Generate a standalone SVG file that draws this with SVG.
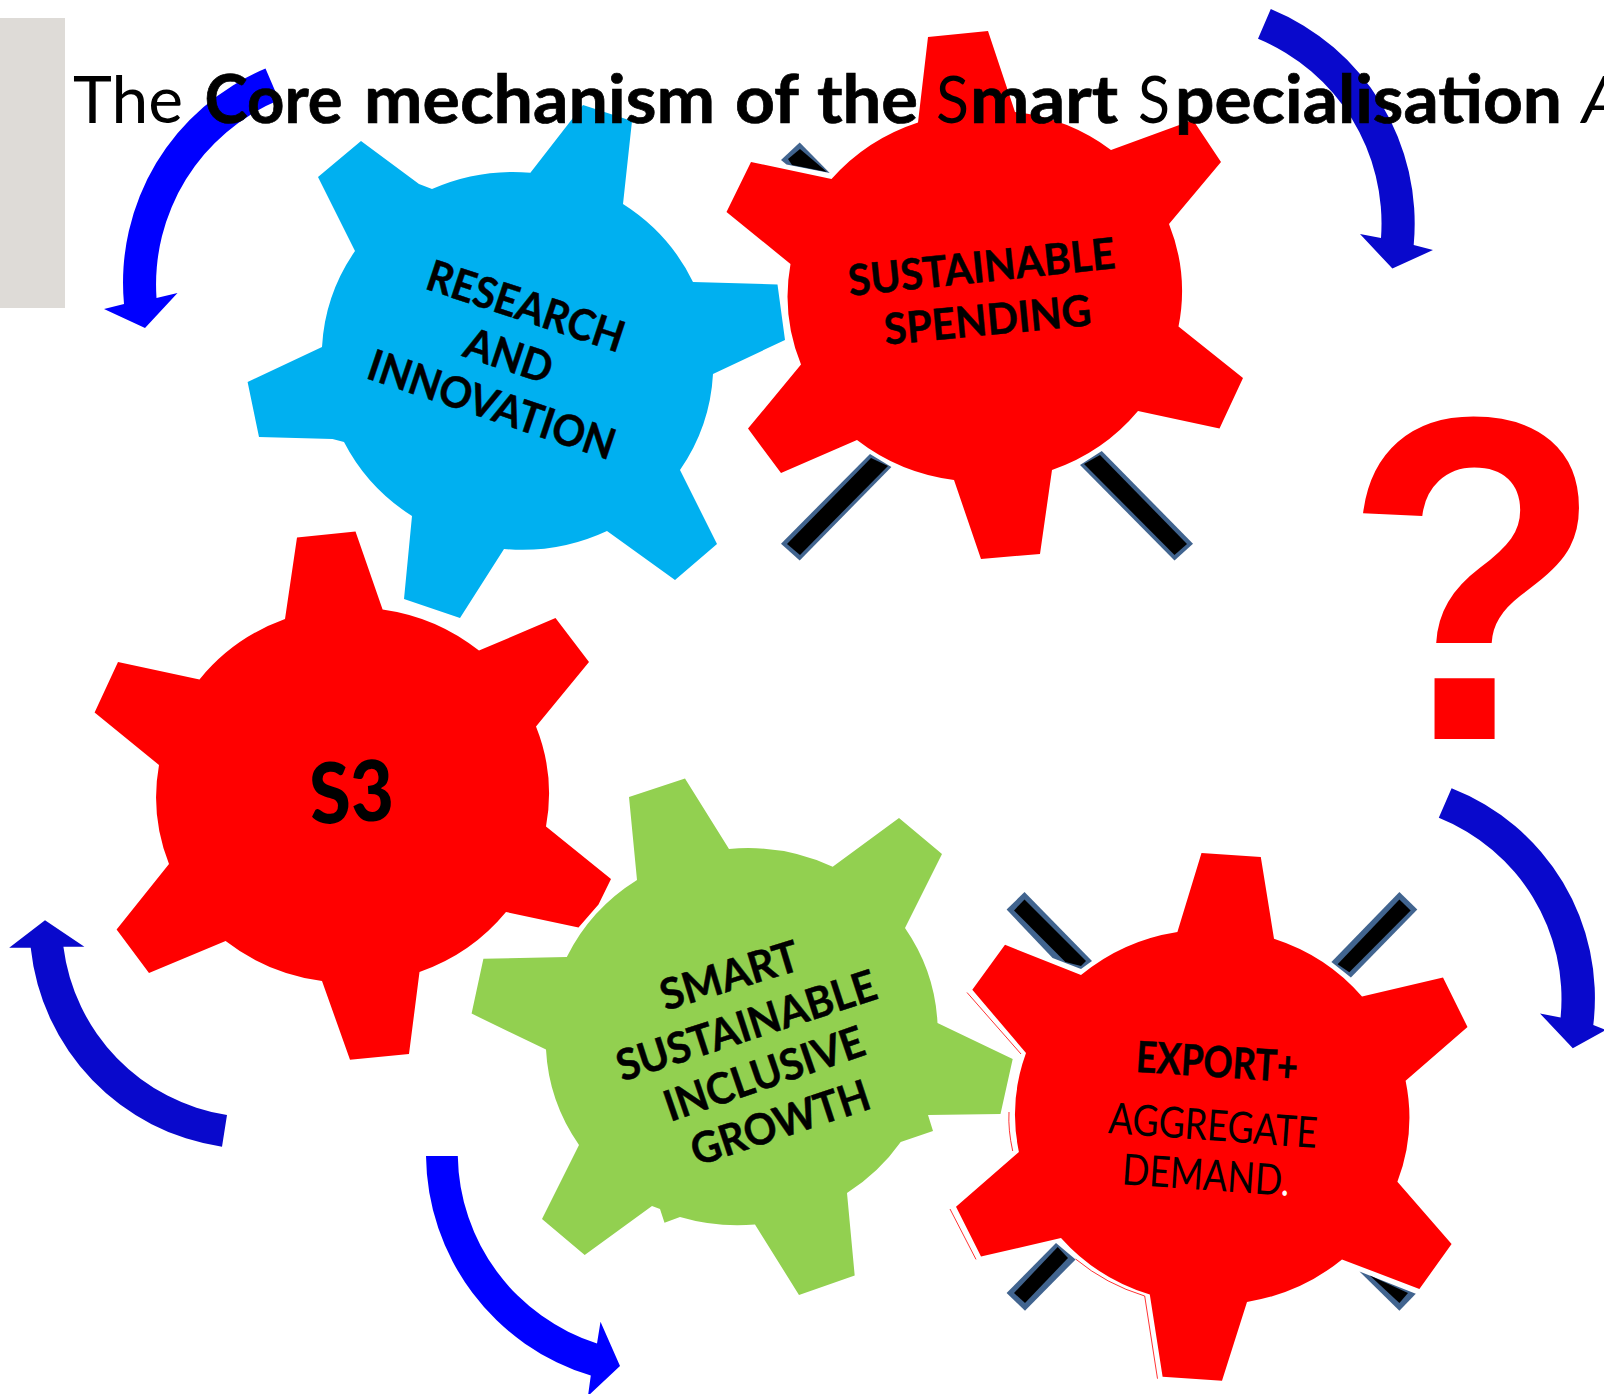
<svg xmlns="http://www.w3.org/2000/svg" width="1604" height="1394" viewBox="0 0 1604 1394">
<style>
text{font-family:"Lato","Liberation Sans",sans-serif;fill:#000}
.b{font-weight:700;stroke:#000;stroke-width:.7}
.r{font-weight:400}
.lb{font-size:43px;text-anchor:middle;font-weight:700;stroke:#000;stroke-width:.5}
.lr{font-weight:400;stroke:none}
.red{fill:#f00}
.bar{fill:#41648f}
.ink{fill:#000}
.hair{fill:none;stroke:#f00;stroke-width:.8}
.a1{fill:#00f}
.a2{fill:#0909cc}
</style>
<rect id="side-panel" x="0" y="18" width="65" height="290" fill="#dedbd7"/>
<g id="connectors">
<path class="a1" d="M265.5,68.6A232,232 0 0 0 124,304L104,309L145,328L177.5,293L156.5,298A200,200 0 0 1 279,100Z"/>
<path class="a2" d="M1270.8,9A232,232 0 0 1 1413.7,245L1433,250L1392.4,268.6L1360,234L1381,238A200,200 0 0 0 1258,38.8Z"/>
<path class="a2" d="M1451.6,788.3A225,225 0 0 1 1593.3,1024.9L1606,1030L1572.8,1048.3L1540,1013.5L1560.6,1017.6A195,195 0 0 0 1438.8,817.8Z"/>
<path class="a2" d="M222,1146.7A225,225 0 0 1 30.7,947.7L9.2,947.7L45,920.3L84.4,946.7L63.4,946.7A195,195 0 0 0 227,1115Z"/>
<path class="a1" d="M426,1155.9A232,232 0 0 0 590.8,1375.6L588,1396L620,1366L600.5,1321.7L597,1343.4A200,200 0 0 1 457.8,1155.9Z"/>
</g>
<g id="gear-spending">
<polygon class="bar" points="870,454 891.4,467 799.7,560.4 781,543.7"/><polygon class="ink" points="871,458 888,466 800,555 787,544"/>
<polygon class="bar" points="1101.8,451 1193,543.7 1174.5,560.4 1080,465"/><polygon class="ink" points="1100,455 1187,544 1174.5,555 1084,464"/>
<polygon class="bar" points="799.7,142.4 829.7,173 786.5,164.5 781,160"/><polygon class="ink" points="800,149 827,172 792,165 788,159"/>
<path class="red" d="M928,37L988,31L1015,112A196,188 0 0 1 1111,150L1193,120L1221,162L1169,224A196,188 0 0 1 1178.5,326.5L1243,378L1219.5,428.6L1138,411A196,188 0 0 1 1052,470L1040,554L981,559L954,480A196,188 0 0 1 857,440L781,473L748,428.6L801,364.5A196,188 0 0 1 790.5,264L726.5,212L751,162L831.5,179A196,188 0 0 1 918,122.4Z"/>
<text class="lb" transform="translate(983,282) rotate(-6)" textLength="268" lengthAdjust="spacingAndGlyphs">SUSTAINABLE</text>
<text class="lb" transform="translate(989,335) rotate(-5.4)" textLength="208" lengthAdjust="spacingAndGlyphs">SPENDING</text>
</g>
<g id="gear-research">
<path fill="#00b0f0" d="M530.4,172.7L583,105L632,121L623,204A196,190 0 0 1 693,282L777.5,284.5L785,340L713,374A196,190 0 0 1 680,470L717,544L675,580L607,531A196,190 0 0 1 504,549L460,618L404,599L412,516A196,190 0 0 1 344,442L332.5,439L259,437L247.6,382L322,347A196,190 0 0 1 355,251L318,177L361,141L419,184L432,189A196,190 0 0 1 530.4,172.7Z"/>
<text class="lb" transform="translate(521,320.5) rotate(18.3)" textLength="205" lengthAdjust="spacingAndGlyphs">RESEARCH</text>
<text class="lb" transform="translate(504,370) rotate(18.5)" textLength="90" lengthAdjust="spacingAndGlyphs">AND</text>
<text class="lb" transform="translate(487,419) rotate(18.7)" textLength="258" lengthAdjust="spacingAndGlyphs">INNOVATION</text>
</g>
<g id="gear-s3">
<path class="red" d="M297,537.5L355.5,531.5L382.6,609.4A196,188 0 0 1 479,650.6L555.5,618L589,662L536,726.5A196,188 0 0 1 546,826.5L611,879L598.5,904.4L578.5,927.5L506,912A196,188 0 0 1 419.5,972L409,1054L350,1059.7L322,981A196,188 0 0 1 225.6,941L149,973L116.6,929.4L169,864A196,188 0 0 1 159,765L94.6,712.6L118,662L199.5,679.4A196,188 0 0 1 285,619Z"/>
<text font-weight="900" font-size="84" text-anchor="middle" transform="translate(353,822) rotate(-3)" textLength="84" lengthAdjust="spacingAndGlyphs">S3</text>
</g>
<g id="gear-growth">
<path fill="#92d050" d="M629,797L685,778.5L729,849A196,188 0 0 1 832.7,866.8L899,818L942,854L905,928A196,188 0 0 1 937.5,1023L1012.7,1059L1000.5,1114L928,1115L933,1131L900.7,1142A196,188 0 0 1 847,1193L854.7,1275.6L799,1295L755,1224.5A196,188 0 0 1 680,1217L664.5,1222.7L660,1209L652,1206L584.7,1255L542,1219L579,1145A196,188 0 0 1 546,1049.6L471.6,1013.6L483.4,958.8L566.8,957A196,188 0 0 1 637,880Z"/>
<text class="lb" transform="translate(734,990) rotate(-17)" textLength="143" lengthAdjust="spacingAndGlyphs">SMART</text>
<text class="lb" transform="translate(751,1040) rotate(-18)" textLength="271" lengthAdjust="spacingAndGlyphs">SUSTAINABLE</text>
<text class="lb" transform="translate(769,1088) rotate(-19)" textLength="209" lengthAdjust="spacingAndGlyphs">INCLUSIVE</text>
<text class="lb" transform="translate(785,1137) rotate(-18.3)" textLength="186" lengthAdjust="spacingAndGlyphs">GROWTH</text>
</g>
<g id="gear-export">
<polygon class="bar" points="1024.5,892 1092,961 1081,969 1052.6,958 1006.6,909.6"/><polygon class="ink" points="1024.5,899.5 1086,961 1081,966 1065.4,962 1014,910.4"/>
<polygon class="bar" points="1399.4,892 1417.3,909.6 1350.9,977.6 1331.4,962"/><polygon class="ink" points="1399.4,899.5 1410.7,910.4 1349.3,972.3 1337.6,964.2"/>
<polygon class="bar" points="1056,1243 1075.6,1259.4 1025,1310.7 1006.6,1293"/><polygon class="ink" points="1057.7,1247 1068,1258 1025,1303 1014,1293"/>
<polygon class="bar" points="1359.5,1271.5 1415.8,1293.8 1399.4,1310.7"/><polygon class="ink" points="1369.8,1275.6 1408,1293 1399.4,1303"/>
<path class="hair" d="M967,992.5L1021,1054M1009,1112Q1008,1130 1012.7,1151M950,1209L976,1259.4M1075.6,1259A196,188 0 0 0 1144.7,1296L1157.5,1378.7"/>
<path class="red" d="M1201.5,853L1260.8,857L1274,938.7A196,188 0 0 1 1362,996.5L1443,977.5L1467.5,1027L1405.6,1080.7A196,188 0 0 1 1397.4,1181.8L1451.6,1244L1419.4,1289L1342,1259.4A196,188 0 0 1 1247,1301.9L1222,1380.7L1162.6,1376.7L1149.8,1294.6A196,188 0 0 1 1061,1238L981,1256.6L956,1206.8L1018.9,1152A196,188 0 0 1 1026,1053L972.3,989.7L1005,944.8L1081,975A196,188 0 0 1 1177.4,931.9Z"/>
<text class="lb" transform="translate(1216,1077) rotate(3.7)" textLength="162" lengthAdjust="spacingAndGlyphs">EXPORT+</text>
<text class="lb lr" transform="translate(1212,1140.5) rotate(4.1)" textLength="209" lengthAdjust="spacingAndGlyphs">AGGREGATE</text>
<text class="lb lr" transform="translate(1205,1190) rotate(4)" textLength="168" lengthAdjust="spacingAndGlyphs">DEMAND<tspan style="fill:#fff">.</tspan></text>
</g>
<text id="question" transform="translate(1473.5,739) scale(.965,1.047)" text-anchor="middle" font-size="441" style="font-family:'Liberation Sans',sans-serif;font-weight:700;fill:#f00">?</text>
<text id="title" y="123" font-size="66">
<tspan class="r" x="73" textLength="110" lengthAdjust="spacingAndGlyphs">The</tspan>
<tspan class="b" x="204.6" textLength="138" lengthAdjust="spacingAndGlyphs">Core</tspan>
<tspan class="b" x="364" textLength="351" lengthAdjust="spacingAndGlyphs">mechanism</tspan>
<tspan class="b" x="735" textLength="64" lengthAdjust="spacingAndGlyphs">of</tspan>
<tspan class="b" x="817" textLength="101" lengthAdjust="spacingAndGlyphs">the</tspan>
<tspan class="r" x="936" textLength="33" lengthAdjust="spacingAndGlyphs">S</tspan><tspan class="b" x="970" textLength="148" lengthAdjust="spacingAndGlyphs">mart</tspan>
<tspan class="r" x="1138" textLength="32" lengthAdjust="spacingAndGlyphs">S</tspan><tspan class="b" x="1175" textLength="387" lengthAdjust="spacingAndGlyphs">pecialisation</tspan>
<tspan class="r" x="1582" font-style="italic">A</tspan>
</text>
</svg>
